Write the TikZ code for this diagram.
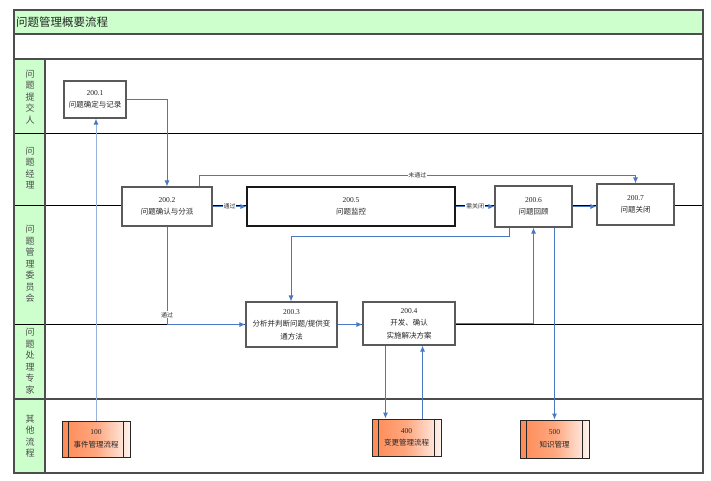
\documentclass[tikz,border=0pt]{standalone}
\usepackage{fontspec}
\setmainfont{Liberation Serif}
\newfontfamily\cjk{Noto Sans CJK SC}
\usetikzlibrary{arrows.meta,calc}
\definecolor{lanegreen}{HTML}{CCFFCC}
\definecolor{flowblue}{HTML}{4A78C2}
\definecolor{lightblue}{HTML}{9AB3DA}
\definecolor{procorange}{HTML}{FF8A55}
\definecolor{framegray}{HTML}{4D4D4D}
\definecolor{boxgray}{HTML}{5A5A5A}
\begin{document}
\begin{tikzpicture}[x=1pt,y=-1pt,
  stepbox/.style={draw=boxgray,line width=1.1pt,fill=white,inner sep=0pt,align=center,
    font=\fontsize{7.5}{12.5}\selectfont,text=black!85},
  procbox/.style={draw=black!85,line width=0.9pt,left color=procorange,right color=procorange!10,
    middle color=procorange!75,inner sep=0pt,align=center,font=\fontsize{7.5}{12.5}\selectfont,text=black!85},
  lanelabel/.style={align=center,inner sep=0pt,font=\cjk\fontsize{9}{11.5}\selectfont,text=black!70},
  flow/.style={draw=flowblue,line width=0.9pt,-{Latex[length=6pt,width=5pt]}},
  lightflow/.style={draw=lightblue,line width=1pt,-{Latex[length=6pt,width=5pt,color=flowblue]}},
  elabel/.style={font=\cjk\fontsize{6}{7}\selectfont,fill=white,inner sep=0.6pt,text=black!80},
  laneline/.style={draw=black,line width=0.7pt},
  frameline/.style={draw=framegray,line width=1.2pt}
]
\useasboundingbox (0,0) rectangle (711,480);
\fill[white] (0,0) rectangle (711,480);
% title band and label column
\fill[lanegreen] (14,10) rectangle (703,34);
\fill[lanegreen] (14,59) rectangle (45,473);
\node[anchor=west,inner sep=0pt,font=\cjk\fontsize{11.5}{13}\selectfont,text=black!85] (title) at (16,22) {问题管理概要流程};
% lane lines
\draw[laneline] (14,133) -- (703,133);
\draw[laneline] (14,205) -- (703,205);
\draw[laneline] (14,324) -- (703,324);
\draw[frameline] (14,399) -- (703,399);
\draw[frameline] (14,34) -- (703,34);
\draw[frameline] (14,59) -- (703,59);
\draw[frameline] (45,59) -- (45,473);
\draw[frameline] (14,10) rectangle (703,473);
% lane labels
\node[lanelabel] (l1) at (30,97) {问\\题\\提\\交\\人};
\node[lanelabel] (l2) at (30,168) {问\\题\\经\\理};
\node[lanelabel] (l3) at (30,264) {问\\题\\管\\理\\委\\员\\会};
\node[lanelabel] (l4) at (30,361) {问\\题\\处\\理\\专\\家};
\node[lanelabel] (l5) at (30,436) {其\\他\\流\\程};
% process steps
\node[stepbox,minimum width=62pt,minimum height=37pt] (n1) at (95,99.5) {200.1\\{\cjk 问题确定与记录}};
\node[stepbox,minimum width=90pt,minimum height=39pt] (n2) at (167,206.5) {200.2\\{\cjk 问题确认与分派}};
\node[stepbox,draw=black!90,minimum width=208pt,minimum height=39pt] (n5) at (351,206.5) {200.5\\{\cjk 问题监控}};
\node[stepbox,minimum width=77pt,minimum height=41pt] (n6) at (533.5,206.5) {200.6\\{\cjk 问题回顾}};
\node[stepbox,minimum width=77pt,minimum height=41pt] (n7) at (635.5,204.5) {200.7\\{\cjk 问题关闭}};
\node[stepbox,minimum width=91pt,minimum height=45pt] (n3) at (291.5,324.5) {200.3\\{\cjk 分析并判断问题/提供变}\\{\cjk 通方法}};
\node[stepbox,minimum width=92pt,minimum height=43pt] (n4) at (409,323.5) {200.4\\{\cjk 开发、确认}\\{\cjk 实施解决方案}};
% other processes
\node[procbox,minimum width=68pt,minimum height=36pt] (p100) at (96,439) {100\\{\cjk 事件管理流程}};
\node[procbox,minimum width=69pt,minimum height=37pt] (p400) at (406.5,437.5) {400\\{\cjk 变更管理流程}};
\node[procbox,minimum width=69pt,minimum height=38pt] (p500) at (554.5,439) {500\\{\cjk 知识管理}};
\foreach \p in {p100,p400,p500}{
  \draw[black!85,line width=0.8pt] ([xshift=7pt]\p.north west) -- ([xshift=7pt]\p.south west);
  \draw[black!85,line width=0.8pt] ([xshift=-7pt]\p.north east) -- ([xshift=-7pt]\p.south east);
}
% helper coordinates
\coordinate (c7) at (635.5,175);
\coordinate (k1) at (291,236);
\coordinate (s2) at ([xshift=78pt]n2.north west);
\coordinate (s6) at ([xshift=15pt]n6.south west);
\coordinate (a4) at ([xshift=23pt]n4.south west);
\coordinate (b4) at ([xshift=51pt]p400.north west);
% connectors
\draw[lightflow] (p100.north) -- (p100.north |- n1.south);
\draw[flow] (n1.east) -| (n2.north);
\draw[flow] (s2) |- node[elabel,pos=0.75] {未通过} (c7) -- (n7.north);
\draw[flow] (n2.east) -- node[elabel] {通过} (n5.west);
\draw[flow] (n5.east) -- node[elabel] {需关闭} (n5.east -| n6.west);
\draw[flow] (n6.east) -- (n6.east -| n7.west);
\draw[flow] (s6) |- (k1) -- (k1 |- n3.north);
\draw[flow] (n2.south) |- node[elabel,pos=0.45] {通过} (n3.west);
\draw[flow] (n3.east) -- (n3.east -| n4.west);
\draw[flow] (n4.east) -| (n6.south);
\draw[flow] (p500.north |- n6.south) -- (p500.north);
\draw[flow] (a4) -- (a4 |- p400.north);
\draw[flow] (b4) -- (b4 |- n4.south);
\end{tikzpicture}
\end{document}
